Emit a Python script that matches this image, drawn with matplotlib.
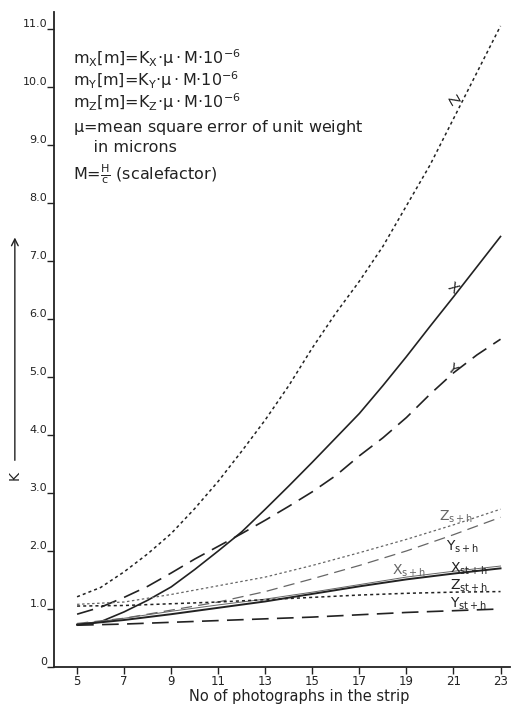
import matplotlib
matplotlib.use("Agg")
import matplotlib.pyplot as plt
import numpy as np

plt.rcParams['mathtext.default'] = 'regular'
plt.rcParams['font.family'] = 'DejaVu Sans'

# values
n_main = [5, 6, 7, 8, 9, 10, 11, 12, 13, 14, 15, 16, 17, 18, 19, 20, 21, 22, 23]
k_z = [1.21, 1.37, 1.64, 1.95, 2.3, 2.73, 3.2, 3.72, 4.26, 4.85, 5.5, 6.1, 6.65,
       7.25, 7.95, 8.65, 9.45, 10.25, 11.05]
k_x = [0.73, 0.78, 0.95, 1.15, 1.38, 1.68, 2.0, 2.33, 2.72, 3.12, 3.53, 3.95, 4.37,
       4.85, 5.35, 5.87, 6.38, 6.9, 7.42]
k_y = [0.91, 1.03, 1.2, 1.39, 1.62, 1.86, 2.08, 2.3, 2.53, 2.77, 3.02, 3.3, 3.64,
       3.95, 4.3, 4.7, 5.07, 5.38, 5.65]

n_low = [5, 7, 9, 11, 13, 15, 17, 19, 21, 23]
k_zsh = [1.08, 1.12, 1.25, 1.4, 1.55, 1.75, 1.97, 2.2, 2.45, 2.72]
k_ysh = [0.75, 0.84, 0.98, 1.12, 1.3, 1.52, 1.75, 2.0, 2.28, 2.58]
k_xsh = [0.73, 0.84, 0.96, 1.07, 1.17, 1.29, 1.42, 1.55, 1.65, 1.74]
k_xst = [0.73, 0.81, 0.91, 1.02, 1.13, 1.26, 1.39, 1.51, 1.61, 1.7]
k_zst = [1.05, 1.06, 1.09, 1.12, 1.16, 1.2, 1.24, 1.27, 1.29, 1.3]
k_yst = [0.72, 0.74, 0.77, 0.8, 0.83, 0.86, 0.9, 0.94, 0.97, 1.0]

xticks = [5, 7, 9, 11, 13, 15, 17, 19, 21, 23]
yticks = [0, 1, 2, 3, 4, 5, 6, 7, 8, 9, 10, 11]
ytick_labels = ['0', '1.0', '2.0', '3.0', '4.0', '5.0', '6.0', '7.0', '8.0', '9.0', '10.0', '11.0']

ink = '#222222'
grey = '#666666'

fig = plt.figure(figsize=(5.12, 7.07), dpi=100)
ax = fig.add_axes([0.1055, 0.0566, 0.89, 0.9264])

# main curves
ax.plot(n_main, k_z, color=ink, lw=1.1, ls=(0, (2, 2)))
ax.plot(n_main, k_x, color=ink, lw=1.2, ls='-')
ax.plot(n_main, k_y, color=ink, lw=1.2, ls=(0, (10, 5)))

# s+h curves
ax.plot(n_low, k_zsh, color=grey, lw=0.9, ls=(0, (2, 2)))
ax.plot(n_low, k_ysh, color=grey, lw=0.9, ls=(0, (9, 5)))
ax.plot(n_low, k_xsh, color=grey, lw=0.7, ls='-')

# st+h curves
ax.plot(n_low, k_xst, color=ink, lw=1.4, ls='-')
ax.plot(n_low, k_zst, color=ink, lw=1.1, ls=(0, (2, 2)))
ax.plot(n_low, k_yst, color=ink, lw=1.2, ls=(0, (10, 5)))

# curve labels
ax.text(20.95, 9.78, 'Z', rotation=-60, fontsize=10, color=ink, ha='center', va='center')
ax.text(20.95, 6.53, 'X', rotation=-40, fontsize=10, color=ink, ha='center', va='center')
ax.text(20.95, 5.15, 'Y', rotation=-40, fontsize=10, color=ink, ha='center', va='center')
ax.text(20.4, 2.53, r'Z$_{s+h}$', fontsize=10, color=grey, ha='left', va='baseline')
ax.text(20.7, 2.0, r'Y$_{s+h}$', fontsize=10, color=ink, ha='left', va='baseline')
ax.text(18.4, 1.6, r'X$_{s+h}$', fontsize=10, color=grey, ha='left', va='baseline')
ax.text(20.85, 1.62, r'X$_{st+h}$', fontsize=10, color=ink, ha='left', va='baseline')
ax.text(20.85, 1.33, r'Z$_{st+h}$', fontsize=10, color=ink, ha='left', va='baseline')
ax.text(20.85, 1.02, r'Y$_{st+h}$', fontsize=10, color=ink, ha='left', va='baseline')

# formula block
lines = [
    r'm$_X$[m]=K$_X$$\cdot\mu\cdot$M$\cdot$10$^{-6}$',
    r'm$_Y$[m]=K$_Y$$\cdot\mu\cdot$M$\cdot$10$^{-6}$',
    r'm$_Z$[m]=K$_Z$$\cdot\mu\cdot$M$\cdot$10$^{-6}$',
    r'$\mu$=mean square error of unit weight',
    r'    in microns',
    r'M=$\frac{H}{c}$ (scalefactor)',
]
ys = [10.5, 10.12, 9.74, 9.3, 8.95, 8.5]
for s, yy in zip(lines, ys):
    ax.text(4.83, yy, s, fontsize=11.5, color=ink, ha='left', va='center')

ax.set_xlim(4.02, 23.39)
ax.set_ylim(0, 11.29)
ax.set_xticks(xticks)
ax.set_xticklabels([str(v) for v in xticks])
ax.set_yticks(yticks)
ax.set_yticklabels(ytick_labels)
for lbl in ax.get_yticklabels():
    lbl.set_verticalalignment('bottom')
ax.tick_params(axis='both', direction='out', length=5, width=1, colors=ink)
ax.tick_params(axis='y', pad=0, labelsize=8)
ax.tick_params(axis='x', pad=1, labelsize=8.5)

for side in ['top', 'right']:
    ax.spines[side].set_visible(False)
for side in ['left', 'bottom']:
    ax.spines[side].set_color(ink)
    ax.spines[side].set_linewidth(1.3)

# x axis title placed in figure coordinates so it stays inside the canvas
fig.text(0.585, 0.0085, 'No of photographs in the strip', fontsize=10.5, color=ink,
         ha='center', va='baseline')

# K arrow on the left
fig.text(0.029, 0.328, 'K', rotation=90, fontsize=10, color=ink, ha='center', va='center')
fig.add_artist(matplotlib.patches.FancyArrowPatch((0.029, 0.345), (0.029, 0.668),
                                                  transform=fig.transFigure, arrowstyle='->',
                                                  mutation_scale=12, color=ink, lw=1))

fig.savefig('out.png', dpi=100)
